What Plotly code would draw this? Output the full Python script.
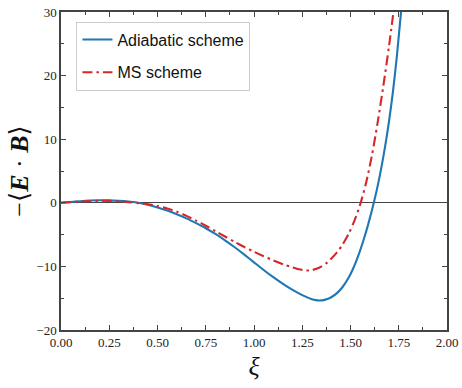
import plotly.graph_objects as go

xi_adiabatic = [0.00, 0.05, 0.10, 0.15, 0.20, 0.25, 0.30, 0.35, 0.40, 0.45, 0.50, 0.55, 0.60, 0.65,
                0.70, 0.75, 0.80, 0.85, 0.90, 0.95, 1.00, 1.05, 1.10, 1.15, 1.20, 1.25, 1.30, 1.32,
                1.34, 1.36, 1.38, 1.40, 1.43, 1.46, 1.49, 1.515, 1.54, 1.566, 1.592, 1.622, 1.65,
                1.68, 1.70, 1.72, 1.74, 1.765]
eb_adiabatic = [0.0, 0.12, 0.25, 0.35, 0.4, 0.38, 0.3, 0.18, 0.02, -0.3, -0.72, -1.22, -1.8, -2.45,
                -3.2, -4.0, -4.9, -5.9, -6.99, -8.15, -9.36, -10.56, -11.7, -12.75, -13.7, -14.52,
                -15.15, -15.3, -15.35, -15.3, -15.13, -14.85, -14.2, -13.2, -11.8, -10.25, -8.35,
                -6.0, -3.35, 0.15, 4.0, 9.0, 12.9, 17.5, 23.0, 31.0]

xi_ms = [0.00, 0.05, 0.10, 0.15, 0.20, 0.25, 0.30, 0.35, 0.40, 0.45, 0.50, 0.55, 0.60, 0.65, 0.70,
         0.75, 0.80, 0.85, 0.90, 0.95, 1.00, 1.05, 1.10, 1.15, 1.20, 1.24, 1.27, 1.30, 1.34, 1.38,
         1.43, 1.46, 1.49, 1.52, 1.55, 1.58, 1.61, 1.64, 1.67, 1.70, 1.725]
eb_ms = [0.0, 0.1, 0.2, 0.28, 0.32, 0.3, 0.22, 0.1, -0.05, -0.22, -0.5, -0.9, -1.4, -2.05, -2.8,
         -3.6, -4.45, -5.3, -6.15, -6.95, -7.7, -8.4, -9.05, -9.65, -10.15, -10.5, -10.65,
         -10.575, -10.175, -9.375, -7.8, -6.51, -4.89, -2.85, -0.27, 3.05, 7.3, 12.5, 18.35,
         24.75, 30.6]

x_ticks = [0.00, 0.25, 0.50, 0.75, 1.00, 1.25, 1.50, 1.75, 2.00]
x_tick_labels = ["0.00", "0.25", "0.50", "0.75", "1.00", "1.25", "1.50", "1.75", "2.00"]
y_ticks = [-20, -10, 0, 10, 20, 30]
y_tick_labels = ["\u221220", "\u221210", "0", "10", "20", "30"]

serif = "Liberation Serif, DejaVu Serif, serif"
sans = "Liberation Sans, DejaVu Sans, sans-serif"
axcol = "#444444"

fig = go.Figure()
fig.add_trace(go.Scatter(x=xi_adiabatic, y=eb_adiabatic, mode="lines", name="Adiabatic scheme",
                         legendgroup="a",
                         line=dict(color="#1f77b4", width=2.1, shape="spline", smoothing=0.8)))
fig.add_trace(go.Scatter(x=xi_ms, y=eb_ms, mode="lines", name="MS scheme", legendgroup="b",
                         line=dict(color="#d62728", width=2.1, dash="10px,4px,2.5px,4px",
                                   shape="spline", smoothing=0.8)))

axis_common = dict(showline=True, linecolor=axcol, linewidth=1.5, mirror="allticks",
                   ticks="inside", ticklen=5, tickwidth=1.2, tickcolor=axcol, automargin=False,
                   ticklabeloverflow="allow", showgrid=False,
                   tickfont=dict(family=serif, size=13, color="#222"))

fig.update_layout(
    width=462, height=388,
    margin=dict(l=61, r=15, t=12, b=58),
    paper_bgcolor="white", plot_bgcolor="white",
    showlegend=True,
    legend=dict(x=0.04, y=0.97, xanchor="left", yanchor="top", traceorder="grouped",
                bgcolor="white", bordercolor="#cccccc", borderwidth=1,
                font=dict(family=sans, size=16, color="#111"), tracegroupgap=9),
    xaxis=dict(range=[0, 2], tickvals=x_ticks, ticktext=x_tick_labels,
               minor=dict(dtick=0.125, ticks="inside", ticklen=3, tickwidth=1, tickcolor=axcol),
               title=dict(text="<i>\u03be</i>", font=dict(family=serif, size=26, color="#111"),
                          standoff=7),
               zeroline=False, **axis_common),
    yaxis=dict(range=[-20, 30], tickvals=y_ticks, ticktext=y_tick_labels,
               minor=dict(dtick=5, ticks="inside", ticklen=3, tickwidth=1, tickcolor=axcol),
               title=dict(text="\u2212\u27e8<b><i>E</i></b> \u00b7 <b><i>B</i></b>\u27e9",
                          font=dict(family=serif, size=26, color="#111"), standoff=0),
               zeroline=True, zerolinecolor=axcol, zerolinewidth=1.3, **axis_common),
)

fig.write_html("out.html", config={"displayModeBar": False},
               post_script="document.body.style.margin='0';")
